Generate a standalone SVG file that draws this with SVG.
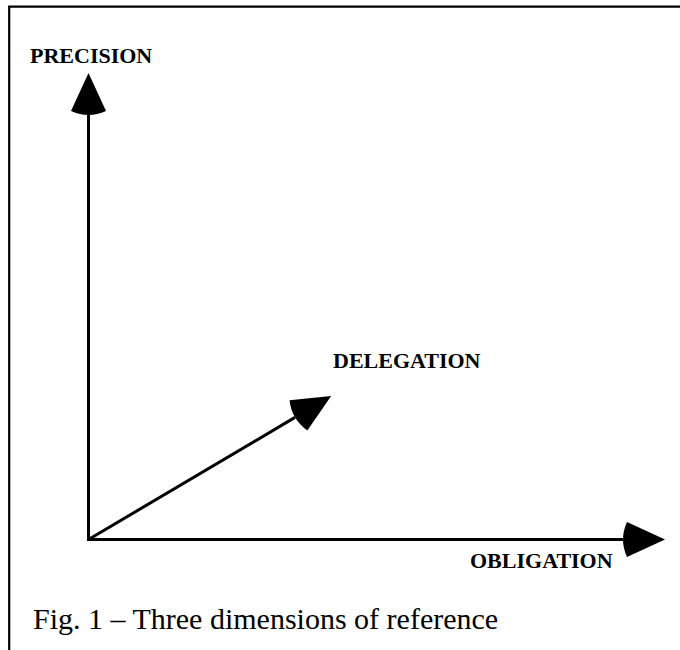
<svg xmlns="http://www.w3.org/2000/svg" width="680" height="650" viewBox="0 0 680 650">
  <style>
    .frame { stroke: #000; stroke-width: 2.2; fill: none; }
    .axis { stroke: #000; stroke-width: 3; fill: none; }
    .lbl { font-family: "Liberation Serif", "Times New Roman", serif; font-weight: bold; font-size: 22px; fill: #000; }
    .cap { font-family: "Liberation Serif", "Times New Roman", serif; font-size: 30px; fill: #000; }
  </style>
  <defs>
    <marker id="head" markerUnits="userSpaceOnUse" markerWidth="50" markerHeight="40" viewBox="-5 -20 50 40" refX="0" refY="0" orient="auto" overflow="visible">
      <path d="M 4 -17.5 L 42 0 L 4 17.5 Q -4 0 4 -17.5 Z" fill="#000"/>
    </marker>
  </defs>
  <rect width="680" height="650" fill="#fff"/>
  <g id="frame">
    <path class="frame" d="M 9.2 650 L 9.2 6.7 L 680 6.7"/>
  </g>
  <g id="connectors">
    <line class="axis" x1="88.5" y1="541" x2="88.5" y2="115" marker-end="url(#head)"/>
    <line class="axis" x1="87" y1="539.5" x2="623" y2="539.5" marker-end="url(#head)"/>
    <line class="axis" x1="88.5" y1="539.5" x2="295" y2="417.4" marker-end="url(#head)"/>
  </g>
  <g id="precision">
    <text class="lbl" x="30" y="63">PRECISION</text>
  </g>
  <g id="delegation">
    <text class="lbl" x="333" y="368">DELEGATION</text>
  </g>
  <g id="obligation">
    <text class="lbl" x="470" y="568">OBLIGATION</text>
  </g>
  <g id="caption">
    <text class="cap" x="33" y="629">Fig. 1 – Three dimensions of reference</text>
  </g>
</svg>
